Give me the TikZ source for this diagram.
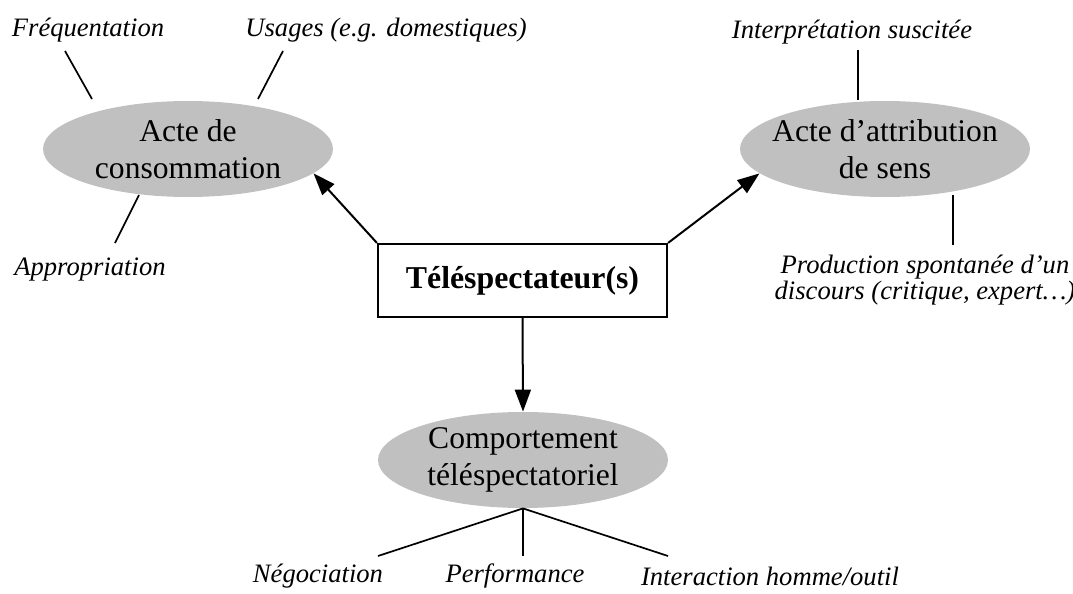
\documentclass[tikz,border=0pt]{standalone}
\usepackage{fontspec}
\setmainfont{Liberation Serif}
\usetikzlibrary{shapes.geometric,arrows.meta}
\definecolor{ovalgray}{RGB}{192,192,192}

\begin{document}
\begin{tikzpicture}[x=0.5pt,y=-0.5pt,
	acte/.style={ellipse, fill=ovalgray, minimum width=145pt, minimum height=48pt, inner sep=0pt},
	actetxt/.style={align=center, inner sep=0pt, font=\fontsize{15.8}{18.5}\selectfont},
	aspect/.style={align=center, inner sep=0pt, font=\fontsize{13.3}{13}\selectfont\itshape},
	fleche/.style={line width=1pt, -{Triangle[length=11pt,width=8pt]}},
	trait/.style={line width=0.85pt}]
	\useasboundingbox (0,0) rectangle (1073,594);
	% acteur central et les trois actes
	\node[draw, line width=1.1pt, minimum width=144.5pt, minimum height=36.5pt, inner sep=0pt, font=\fontsize{15.9}{18}\selectfont\bfseries] (tele) at (522.5,280.5) {Téléspectateur(s)};
	\node[acte] (conso) at (188,149) {}; \node[actetxt] at (conso) {Acte de\\consommation};
	\node[acte] (sens) at (885,149) {}; \node[actetxt] at (sens) {Acte d’attribution\\de sens};
	\node[acte] (compo) at (523,460) {}; \node[actetxt] at (compo) {Comportement\\téléspectatoriel};
	\draw[fleche] (tele.north west) -- (conso.-11);
	\draw[fleche] (tele.north east) -- (sens.191);
	\draw[fleche] (tele.south) -- (compo.north);
	% aspects
	\node[aspect] (freq) at (88,30) {Fréquentation};
	\node[aspect, anchor=west] (usag) at (245,30) {Usages (e.g. domestiques)};
	\node[aspect] (appro) at (90,270) {Appropriation};
	\node[aspect] (interp) at (852,32) {Interprétation suscitée};
	\node[aspect] (prod) at (925,280) {Production spontanée d’un\\discours (critique, expert…)};
	\node[aspect] (nego) at (318,576) {Négociation};
	\node[aspect] (perf) at (515,576) {Performance};
	\node[aspect] (inter) at (770,576) {Interaction homme/outil};
	\coordinate (f1) at (65,51); \coordinate (f2) at (92,99);
	\coordinate (u1) at (283,51); \coordinate (u2) at (258,99);
	\coordinate (a1) at (139,195); \coordinate (a2) at (115,243);
	\coordinate (i1) at (858,50); \coordinate (i2) at (858,100);
	\coordinate (p1) at (953,195); \coordinate (p2) at (953,245);
	\draw[trait] (f1) -- (f2); \draw[trait] (u1) -- (u2); \draw[trait] (a1) -- (a2);
	\draw[trait] (i1) -- (i2); \draw[trait] (p1) -- (p2);
	\foreach \x [count=\i] in {378,523,668} {\coordinate (b\i) at (\x,556); \draw[trait] (compo.south) -- (b\i);}
\end{tikzpicture}
\end{document}
